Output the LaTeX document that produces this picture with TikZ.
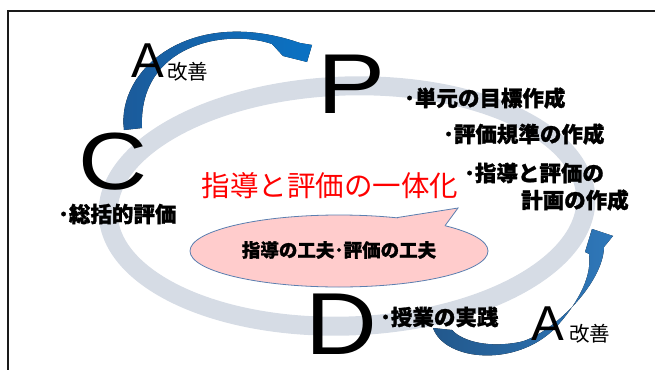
\documentclass[tikz,border=0pt]{standalone}
\usepackage{fontspec}
\usepackage{graphicx}
\setmainfont{Liberation Sans}
\newfontfamily\jp{Noto Sans CJK JP}[BoldFeatures={FakeBold=1.2}]
\definecolor{ringc}{HTML}{D6DCE5}
\definecolor{topA}{HTML}{1C5A99}
\definecolor{topB}{HTML}{0A72C4}
\definecolor{botA}{HTML}{22588C}
\definecolor{botB}{HTML}{2F78BA}
\definecolor{pinkc}{HTML}{FFCCCC}
\definecolor{pinkline}{HTML}{5B7FB0}
\definecolor{redc}{HTML}{FF0000}
\definecolor{framec}{HTML}{1A1A1A}
\tikzset{
  bul/.style={font={\jp\bfseries\fontsize{21.5pt}{24pt}\selectfont}, anchor=west, inner sep=0pt},
  bigletter/.style={anchor=base, inner sep=0pt},
  aletter/.style={font={\fontsize{49pt}{52pt}\selectfont}, anchor=base west, inner sep=0pt},
  kaizen/.style={font={\jp\fontsize{20.5pt}{22pt}\selectfont}, anchor=base west, inner sep=0pt},
}
\begin{document}
\begin{tikzpicture}[x=1pt,y=-1pt]
\useasboundingbox (0,0) rectangle (655,369);
% frame
\draw[framec, line width=2.5pt] (8,370) -- (8,11) -- (656,11);
% ring
\draw[ringc, line width=19pt, rotate around={2:(347,206)}] (347,206) ellipse [x radius=239, y radius=120];
% top arrow (A -> P)
\fill[left color=topA, right color=topB]
  (124,130) .. controls (116,70) and (190,5) .. (300,43)
  -- (312,45) -- (307,62) -- (283,56) -- (272,44)
  .. controls (225,28) and (138,45) .. (142,128) -- cycle;
% bottom arrow (D -> A -> P)
\fill[left color=botA, right color=botB]
  (433,328) .. controls (445,362) and (520,368) .. (558,325)
  .. controls (580,300) and (592,275) .. (589,254)
  -- (585,252) -- (592,229) -- (613,236) -- (604,247)
  .. controls (603,285) and (550,335) .. (520,342)
  .. controls (490,348) and (463,342) .. (452,330) -- cycle;
% speech bubble
\filldraw[fill=pinkc, draw=pinkline, line width=0.8pt] (339,251) ellipse [x radius=149, y radius=36];
\fill[pinkc] (397,217.6) -- (458,208) -- (445,225.7) -- (440,228) -- (420,224) -- (400,221) -- cycle;
\draw[pinkline, line width=0.8pt, line join=miter] (397,217.6) -- (458,208) -- (445,225.7);
\node[font={\jp\bfseries\fontsize{18.5pt}{20pt}\selectfont}, inner sep=0pt] (kufu) at (339,250) {指導の工夫･評価の工夫};
% title
\node[font={\jp\fontsize{28.5pt}{30pt}\selectfont}, text=redc, inner sep=0pt] (title) at (330,186) {指導と評価の一体化};
% bullet texts
\node[bul] (p1) at (404,98) {･単元の目標作成};
\node[bul] (p2) at (443,134) {･評価規準の作成};
\node[bul] (p3) at (464,173) {･指導と評価の};
\node[bul] (p4) at (521,200) {計画の作成};
\node[bul] (c1) at (58,214) {･総括的評価};
\node[bul] (d1) at (380,317) {･授業の実践};
% big letters
\node[bigletter, font={\fontsize{85pt}{90pt}\selectfont}] (P) at (352,113) {\scalebox{1.2}[1]{P}};
\node[bigletter, font={\fontsize{81pt}{86pt}\selectfont}] (C) at (113,189) {\scalebox{1.18}[1]{C}};
\node[bigletter, font={\fontsize{88pt}{92pt}\selectfont}] (D) at (341,354) {\scalebox{1.13}[1]{D}};
% A + kaizen
\node[aletter] (A1) at (131,77) {A};
\node[kaizen] (k1) at (167,79) {改善};
\node[aletter] (A2) at (531,340) {A};
\node[kaizen] (k2) at (569,341.5) {改善};
\end{tikzpicture}
\end{document}
